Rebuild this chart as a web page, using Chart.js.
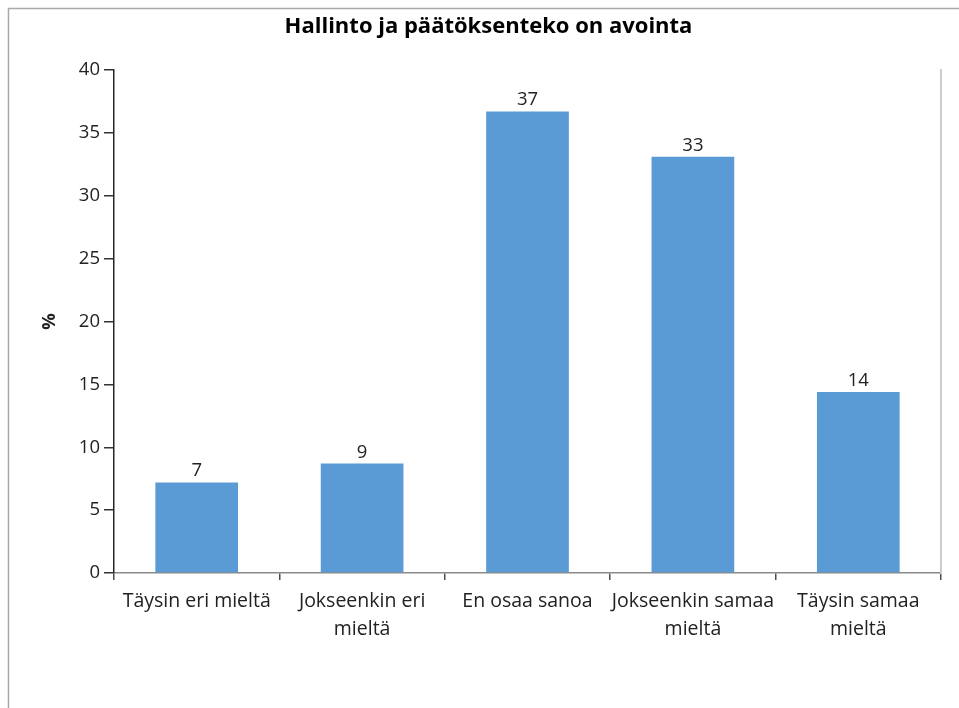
<!DOCTYPE html>
<html>
<head>
<meta charset="utf-8">
<script src="https://cdn.jsdelivr.net/npm/chart.js@4/dist/chart.umd.min.js"></script>
<style>
  html, body { margin: 0; padding: 0; background: #fff; }
  #wrap { position: relative; width: 959px; height: 708px; }
</style>
</head>
<body>
<div id="wrap"><canvas id="chart" width="959" height="708"></canvas></div>
<script>
// Survey answers: "Hallinto ja päätöksenteko on avointa"
const chartTitle = 'Hallinto ja päätöksenteko on avointa';
const categories = [
  'Täysin eri mieltä',
  ['Jokseenkin eri', 'mieltä'],
  'En osaa sanoa',
  ['Jokseenkin samaa', 'mieltä'],
  ['Täysin samaa', 'mieltä']
];
const shares = [7.2, 8.7, 36.7, 33.1, 14.4];   // % of respondents
const yTicks = [0, 5, 10, 15, 20, 25, 30, 35, 40];

const FONT = "'Open Sans', 'Noto Sans', sans-serif";
const TEXT = '#222222';

// Light frame around the chart object
const framePlugin = {
  id: 'frame',
  beforeDraw(chart) {
    const ctx = chart.ctx;
    ctx.save();
    ctx.strokeStyle = '#a9a9a9';
    ctx.lineWidth = 1.5;
    ctx.beginPath();
    ctx.moveTo(8.5, chart.height + 2);
    ctx.lineTo(8.5, 8.5);
    ctx.lineTo(chart.width + 2, 8.5);
    ctx.stroke();
    ctx.restore();
  }
};

// Rounded value written above each bar
const valueLabels = {
  id: 'valueLabels',
  afterDatasetsDraw(chart) {
    const ctx = chart.ctx;
    const meta = chart.getDatasetMeta(0);
    const data = chart.data.datasets[0].data;
    ctx.save();
    ctx.font = '18.5px ' + FONT;
    ctx.fillStyle = TEXT;
    ctx.textAlign = 'center';
    ctx.textBaseline = 'alphabetic';
    meta.data.forEach((bar, i) => {
      ctx.fillText(String(Math.round(data[i])), bar.x, bar.y - 6);
    });
    ctx.restore();
  }
};

new Chart(document.getElementById('chart'), {
  type: 'bar',
  data: {
    labels: categories,
    datasets: [{
      data: shares,
      backgroundColor: '#5b9bd5',
      borderWidth: 0,
      categoryPercentage: 1,
      barPercentage: 0.5
    }]
  },
  options: {
    responsive: false,
    animation: false,
    layout: { padding: { left: 36, right: 18, top: 0, bottom: 0 } },
    plugins: {
      legend: { display: false },
      tooltip: { enabled: false },
      title: {
        display: true,
        text: chartTitle,
        color: '#000',
        font: { family: FONT, size: 22, weight: 'bold', lineHeight: 1.2 },
        padding: { top: 14, bottom: 29.6 }
      }
    },
    scales: {
      x: {
        offset: true,
        afterFit(scale) { scale.height = 135; },
        grid: {
          offset: true,
          drawOnChartArea: false,
          drawTicks: true,
          tickLength: 7,
          color: '#4d4d4d',
          lineWidth: 1.5
        },
        border: { display: true, color: '#8a8a8a', width: 1.5 },
        ticks: {
          color: TEXT,
          font: { family: FONT, size: 19.5, lineHeight: 1.4 },
          padding: 8,
          maxRotation: 0,
          autoSkip: false
        }
      },
      y: {
        min: 0,
        max: 40,
        afterFit(scale) { scale.width = 78; },
        afterBuildTicks(scale) { scale.ticks = yTicks.map(v => ({ value: v })); },
        grid: {
          drawOnChartArea: false,
          drawTicks: true,
          tickLength: 10,
          color: '#333333',
          lineWidth: 1.5
        },
        border: { display: true, color: '#262626', width: 1.5 },
        ticks: {
          color: TEXT,
          font: { family: FONT, size: 18.5 },
          padding: 4
        },
        title: {
          display: true,
          text: '%',
          color: TEXT,
          font: { family: FONT, size: 18.5, weight: 'bold', lineHeight: 1.2 },
          padding: { top: 3, bottom: 0 }
        }
      },
      yRight: {
        position: 'right',
        display: true,
        min: 0,
        max: 40,
        afterFit(scale) { scale.width = 0; },
        grid: { display: false, drawTicks: false },
        border: { display: true, color: '#cccccc', width: 2 },
        ticks: { display: false }
      }
    }
  },
  plugins: [framePlugin, valueLabels]
});
</script>
</body>
</html>
